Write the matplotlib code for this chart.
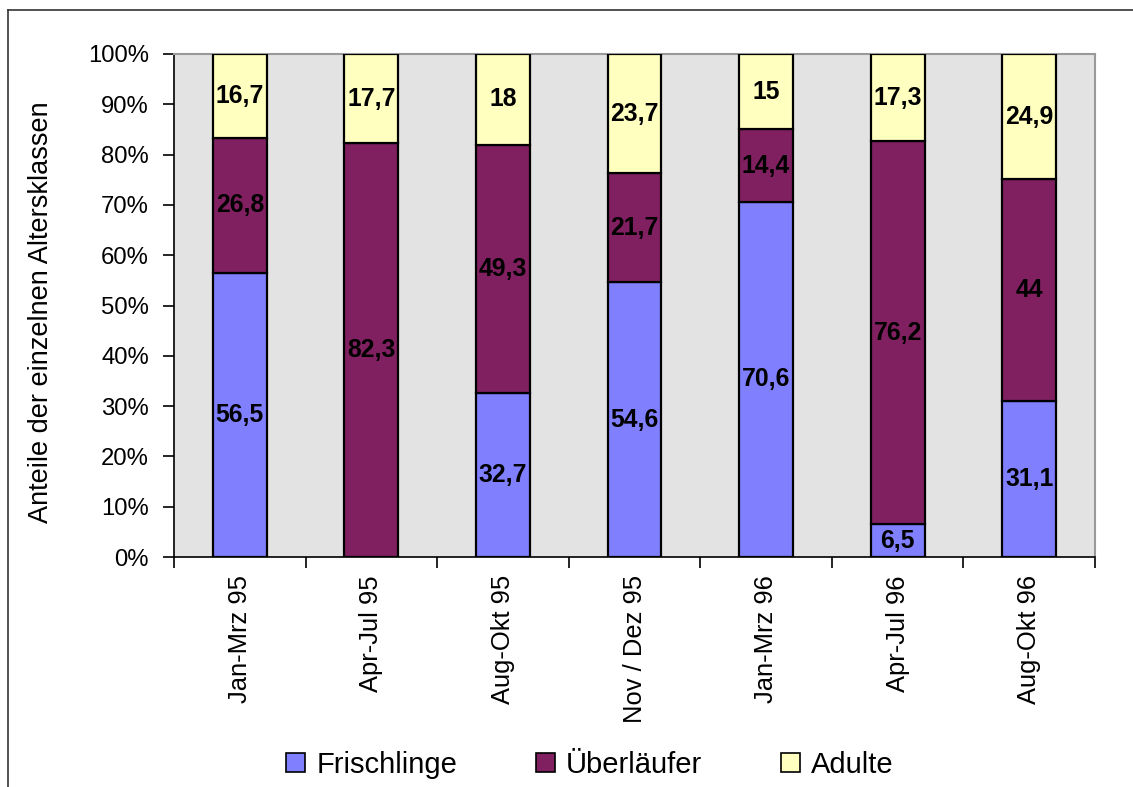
import matplotlib
matplotlib.use("Agg")
import matplotlib.pyplot as plt
from matplotlib.patches import Patch
from matplotlib.lines import Line2D
import numpy as np

plt.rcParams['font.family'] = ['Liberation Sans', 'DejaVu Sans']

categories = ["Jan-Mrz 95", "Apr-Jul 95", "Aug-Okt 95", "Nov / Dez 95",
              "Jan-Mrz 96", "Apr-Jul 96", "Aug-Okt 96"]
frischlinge = [56.5, 0.0, 32.7, 54.6, 70.6, 6.5, 31.1]
ueberlaeufer = [26.8, 82.3, 49.3, 21.7, 14.4, 76.2, 44.0]
adulte = [16.7, 17.7, 18.0, 23.7, 15.0, 17.3, 24.9]
series_names = ["Frischlinge", "Überläufer", "Adulte"]
colors = ["#8080FF", "#802060", "#FFFFC0"]

W, H = 1133, 787
fig = plt.figure(figsize=(W / 100, H / 100), dpi=100)
fig.patch.set_facecolor("white")
# frame around the chart area
fig.add_artist(Line2D([8 / W, 8 / W], [0, 1 - 10 / H], color="#333333", lw=1.2,
                      transform=fig.transFigure))
fig.add_artist(Line2D([8 / W, 1], [1 - 10 / H, 1 - 10 / H], color="#333333", lw=1.2,
                      transform=fig.transFigure))

ax = fig.add_axes([174 / W, 1 - 557 / H, (1095 - 174) / W, (557 - 54) / H])
ax.set_facecolor("#E3E3E3")

x = np.arange(len(categories))
width = 0.41
bottom = np.zeros(len(categories))
for vals, col, name in zip([frischlinge, ueberlaeufer, adulte], colors, series_names):
    vals = np.array(vals)
    ax.bar(x, vals, width, bottom=bottom, color=col, edgecolor="black",
           linewidth=1.6, label=name, zorder=3)
    for xi, b, v in zip(x, bottom, vals):
        if v > 0:
            lbl = f"{v:g}".replace(".", ",")
            ax.text(xi, b + v / 2, lbl, ha="center", va="center",
                    fontsize=17.8, fontweight="bold", color="black", zorder=4)
    bottom += vals

ax.set_xlim(-0.5, len(categories) - 0.5)
ax.set_ylim(0, 100)
ax.set_yticks(np.arange(0, 101, 10))
ax.set_yticklabels([f"{v}%" for v in range(0, 101, 10)], fontsize=17.2)
ax.set_xticks(x)
ax.set_xticklabels(categories, rotation=90, fontsize=18.4)
ax.tick_params(axis="x", length=0, pad=13)
ax.set_xticks(np.arange(-0.5, len(categories), 1.0), minor=True)
ax.tick_params(axis="x", which="minor", length=8, width=1.2, direction="out", color="black")
ax.tick_params(axis="y", length=8, width=1.2, direction="out", pad=10)

for side in ["left", "bottom"]:
    ax.spines[side].set_color("black")
    ax.spines[side].set_linewidth(1.2)
for side in ["top", "right"]:
    ax.spines[side].set_color("#999999")
    ax.spines[side].set_linewidth(1.5)

fig.text(41 / W, 1 - 312 / H, "Anteile der einzelnen Altersklassen", rotation=90,
         ha="center", va="center", fontsize=19.5)

handles = [Patch(facecolor=c, edgecolor="black", linewidth=1.2) for c in colors]
fig.legend(handles, series_names, loc="center", bbox_to_anchor=(590 / W, 1 - 765 / H),
           ncol=3, frameon=False, fontsize=21, handlelength=0.65, handleheight=0.65,
           handletextpad=0.38, columnspacing=2.7, borderpad=0)

fig.savefig("out.png", dpi=100)
